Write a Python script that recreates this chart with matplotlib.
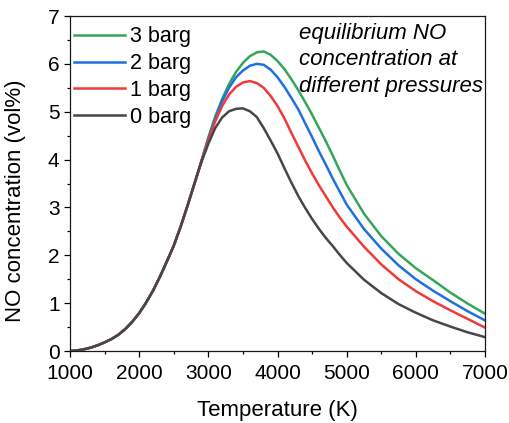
#!/usr/bin/env python3
"""Equilibrium NO concentration vs temperature at 0-3 barg."""
import matplotlib
matplotlib.use("Agg")
import matplotlib.pyplot as plt
from matplotlib.ticker import MultipleLocator

plt.rcParams["font.family"] = ["Liberation Sans", "DejaVu Sans"]

# ── data ──
temperature_k = [1000, 1100, 1200, 1300, 1400, 1500, 1600, 1700, 1800,
                 1900, 2000, 2100, 2200, 2300, 2400, 2500, 2600, 2700,
                 2800, 2900, 3000, 3100, 3200, 3300, 3400, 3500, 3600,
                 3700, 3800, 3900, 4000, 4100, 4200, 4300, 4400, 4500,
                 4600, 4700, 4800, 4900, 5000, 5250, 5500, 5750, 6000,
                 6250, 6500, 6750, 7000]

# shared low-temperature branch (all pressures coincide up to ~2900 K)
_rise = [0.00, 0.01, 0.035, 0.07, 0.12, 0.18, 0.25, 0.34, 0.46,
         0.61, 0.79, 1.01, 1.26, 1.55, 1.87, 2.20, 2.60, 3.04,
         3.50]

no_0barg = _rise + [3.95,
            4.33, 4.66, 4.88, 5.01, 5.06, 5.07, 5.01, 4.89, 4.66,
            4.40, 4.13, 3.82, 3.52, 3.24, 2.99, 2.76, 2.55, 2.36,
            2.19, 2.01, 1.84, 1.49, 1.21, 0.98, 0.80, 0.64, 0.51,
            0.39, 0.29]

no_1barg = _rise + [3.96,
            4.40, 4.80, 5.12, 5.36, 5.52, 5.61, 5.64, 5.60, 5.50,
            5.33, 5.12, 4.86, 4.56, 4.27, 3.98, 3.71, 3.46, 3.23,
            3.00, 2.79, 2.60, 2.18, 1.81, 1.50, 1.25, 1.04, 0.85,
            0.67, 0.49]

no_2barg = _rise + [3.97,
            4.44, 4.86, 5.22, 5.50, 5.72, 5.86, 5.96, 6.00, 5.98,
            5.88, 5.72, 5.52, 5.29, 5.05, 4.76, 4.47, 4.17, 3.89,
            3.60, 3.33, 3.06, 2.55, 2.14, 1.79, 1.50, 1.26, 1.04,
            0.83, 0.64]

no_3barg = _rise + [3.97,
            4.46, 4.90, 5.27, 5.58, 5.83, 6.02, 6.16, 6.24, 6.26,
            6.19, 6.06, 5.89, 5.68, 5.45, 5.20, 4.94, 4.66, 4.38,
            4.08, 3.77, 3.47, 2.87, 2.40, 2.03, 1.73, 1.48, 1.22,
            0.99, 0.78]

series = [
    ("3 barg", no_3barg, "#34a65a"),
    ("2 barg", no_2barg, "#1f6fe0"),
    ("1 barg", no_1barg, "#f03a3a"),
    ("0 barg", no_0barg, "#474747"),
]


def main():
    fig = plt.figure(figsize=(5.10, 4.23), dpi=100)
    ax = fig.add_axes([70 / 510, 72 / 423, 415 / 510, 335 / 423])

    for label, y, color in series:
        ax.plot(temperature_k, y, color=color, lw=1.8, label=label,
                solid_joinstyle="round")

    ax.set_xlim(1000, 7000)
    ax.set_ylim(0, 7)
    ax.xaxis.set_major_locator(MultipleLocator(1000))
    ax.xaxis.set_minor_locator(MultipleLocator(500))
    ax.yaxis.set_major_locator(MultipleLocator(1))
    ax.yaxis.set_minor_locator(MultipleLocator(0.5))
    ax.tick_params(which="major", direction="out", length=4.5, width=0.9,
                   labelsize=15)
    ax.tick_params(axis="x", which="major", pad=5)
    ax.tick_params(axis="y", which="major", pad=3)
    ax.tick_params(which="minor", direction="out", length=2.5, width=0.9)
    for sp in ax.spines.values():
        sp.set_linewidth(0.9)
        sp.set_color("#1a1a1a")

    ax.set_xlabel("Temperature (K)", fontsize=16)
    ax.set_ylabel("NO concentration (vol%)", fontsize=16)
    ax.xaxis.set_label_coords(0.5, -0.145)
    ax.yaxis.set_label_coords(-0.105, 0.448)

    ax.legend(loc="upper left", bbox_to_anchor=(0.01, 0.969), frameon=False,
              fontsize=15.5, handlelength=2.35, handletextpad=0.25,
              labelspacing=0.27, borderpad=0, borderaxespad=0)

    ax.text(0.552, 0.979, "equilibrium NO\nconcentration at\ndifferent pressures",
            transform=ax.transAxes, fontsize=16, style="italic",
            ha="left", va="top", linespacing=1.34)

    fig.savefig("out.png", dpi=100)
    plt.close(fig)


if __name__ == "__main__":
    main()
